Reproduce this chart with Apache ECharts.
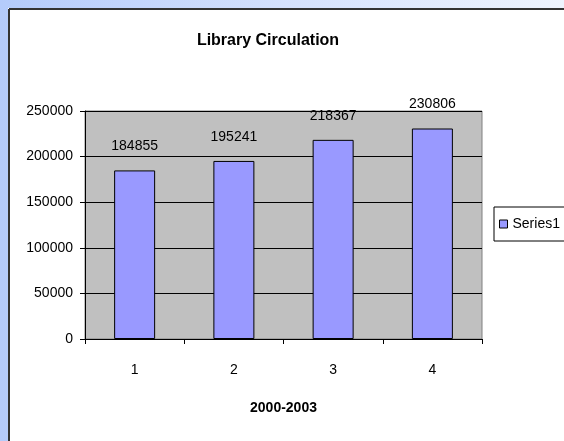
<!DOCTYPE html>
<html>
<head>
<meta charset="utf-8">
<script src="https://cdn.jsdelivr.net/npm/echarts@6/dist/echarts.min.js"></script>
<style>
  html, body { margin: 0; padding: 0; overflow: hidden; }
  #chart { width: 564px; height: 441px; }
</style>
</head>
<body>
<div id="chart"></div>
<script>
const categories = ['1', '2', '3', '4']
const circulation = [184855, 195241, 218367, 230806]
const seriesName = 'Series1'

const font = "'Liberation Sans', Arial, sans-serif"
const chart = echarts.init(document.getElementById('chart'))

chart.setOption({
  backgroundColor: '#fff',
  textStyle: { fontFamily: font, color: '#000' },
  // slide background and chart frame
  graphic: [
    {
      type: 'rect', left: 0, top: 0, z: -10, silent: true,
      shape: { width: 564, height: 441 },
      style: {
        fill: new echarts.graphic.LinearGradient(0, 0, 1, 0, [
          { offset: 0, color: '#b4cbfb' },
          { offset: 0.5, color: '#d4e1fd' },
          { offset: 1, color: '#eef4fe' },
        ]),
      },
    },
    {
      type: 'rect', left: 8, top: 8, z: -9, silent: true,
      shape: { width: 560, height: 440 },
      style: { fill: '#fff' },
    },
    {
      type: 'line', z: -8, silent: true,
      shape: { x1: 9, y1: 9, x2: 564, y2: 9 },
      style: { stroke: '#333', lineWidth: 2 },
    },
    {
      type: 'line', z: -8, silent: true,
      shape: { x1: 9, y1: 9, x2: 9, y2: 441 },
      style: { stroke: '#333', lineWidth: 2 },
    },
  ],
  title: {
    text: 'Library Circulation',
    left: 268,
    top: 33,
    textAlign: 'center',
    padding: 0,
    textStyle: { fontSize: 16, fontWeight: 'bold', color: '#000', fontFamily: font },
  },
  legend: {
    data: [seriesName],
    left: 494,
    top: 207,
    orient: 'vertical',
    padding: [10, 12, 10, 5],
    backgroundColor: '#fff',
    borderColor: '#000',
    borderWidth: 1,
    borderRadius: 0,
    itemWidth: 8,
    itemHeight: 8,
    icon: 'rect',
    itemStyle: { borderColor: '#000', borderWidth: 1 },
    textStyle: { fontSize: 14, color: '#000', fontFamily: font },
  },
  grid: {
    left: 85,
    right: 82,
    top: 111,
    bottom: 102,
    show: true,
    backgroundColor: '#c0c0c0',
    borderColor: '#808080',
    borderWidth: 1,
  },
  xAxis: {
    type: 'category',
    data: categories,
    name: '2000-2003',
    nameLocation: 'middle',
    nameGap: 62,
    nameTextStyle: { fontSize: 14, fontWeight: 'bold', color: '#000', fontFamily: font, verticalAlign: 'top' },
    axisLine: { lineStyle: { color: '#000', width: 1 } },
    axisTick: { show: true, length: 5, lineStyle: { color: '#000' } },
    axisLabel: { fontSize: 14, color: '#000', margin: 24, fontFamily: font },
  },
  yAxis: {
    type: 'value',
    min: 0,
    max: 250000,
    interval: 50000,
    axisLine: { show: true, lineStyle: { color: '#000', width: 1 } },
    axisTick: { show: true, length: 5, lineStyle: { color: '#000' } },
    axisLabel: { fontSize: 14, color: '#000', margin: 12, fontFamily: font, formatter: (v) => String(v) },
    splitLine: { show: true, lineStyle: { color: '#000', width: 1 } },
  },
  series: [
    {
      name: seriesName,
      type: 'bar',
      data: circulation,
      barWidth: 41,
      itemStyle: { color: '#9999ff', borderColor: '#000', borderWidth: 1 },
      label: {
        show: true,
        position: 'top',
        distance: 17,
        fontSize: 14,
        color: '#000',
        fontFamily: font,
      },
    },
  ],
  animation: false,
})
</script>
</body>
</html>
